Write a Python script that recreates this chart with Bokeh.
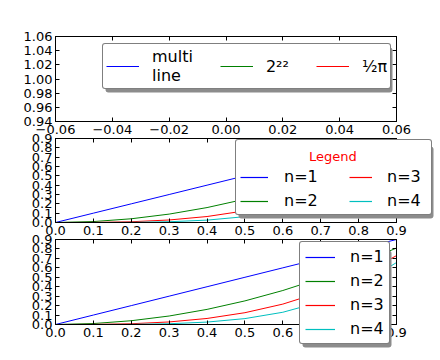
from bokeh.plotting import figure
from bokeh.models import Range1d, LinearAxis, FixedTicker, Legend, LegendItem, BoxAnnotation
from bokeh.layouts import column
from bokeh.embed import file_html
from bokeh.resources import INLINE

# ---------------- data ----------------
top_x = [0.0]
top_y = [1.0]
top_labels = ["multi\nline", "2²²", "½π"]
top_colors = ["#0000ff", "#008000", "#ff0000"]

x_vals = [0.0, 0.1, 0.2, 0.3, 0.4, 0.5, 0.6, 0.7, 0.8, 0.9]
y_n1 = [0.0, 0.1, 0.2, 0.3, 0.4, 0.5, 0.6, 0.7, 0.8, 0.9]
y_n2 = [0.0, 0.01, 0.04, 0.09, 0.16, 0.25, 0.36, 0.49, 0.64, 0.81]
y_n3 = [0.0, 0.001, 0.008, 0.027, 0.064, 0.125, 0.216, 0.343, 0.512, 0.729]
y_n4 = [0.0, 0.0001, 0.0016, 0.0081, 0.0256, 0.0625, 0.1296, 0.2401, 0.4096, 0.6561]
series_labels = ["n=1", "n=2", "n=3", "n=4"]
series_colors = ["#0000ff", "#008000", "#ff0000", "#00bfbf"]
legend_title = "Legend"

top_xticks = [-0.06, -0.04, -0.02, 0.0, 0.02, 0.04, 0.06]
top_xtick_labels = ["\u22120.06", "\u22120.04", "\u22120.02", "0.00", "0.02", "0.04", "0.06"]
top_yticks = [0.94, 0.96, 0.98, 1.0, 1.02, 1.04, 1.06]
top_ytick_labels = ["0.94", "0.96", "0.98", "1.00", "1.02", "1.04", "1.06"]
lin_ticks = [0.0, 0.1, 0.2, 0.3, 0.4, 0.5, 0.6, 0.7, 0.8, 0.9]
lin_tick_labels = ["0.0", "0.1", "0.2", "0.3", "0.4", "0.5", "0.6", "0.7", "0.8", "0.9"]

FONT = "DejaVu Sans"
W = 440
H = 360
SHADOW = "#8c8c8c"


def style_axis(ax, ticks, labels, show):
    ax.ticker = FixedTicker(ticks=ticks)
    ax.major_label_overrides = {t: (l if show else "") for t, l in zip(ticks, labels)}
    ax.major_tick_in = 4
    ax.major_tick_out = 0
    ax.minor_tick_line_color = None
    ax.axis_line_color = "black"
    ax.major_tick_line_color = "black"
    ax.major_label_text_font = FONT
    ax.major_label_text_color = "black"
    ax.major_label_text_font_size = "13px"
    ax.major_label_standoff = 3 if show else 0


def make_fig(height, btop, bbottom, xr, yr, xt, xl, yt, yl, mtop):
    p = figure(width=W, height=height, x_range=Range1d(*xr), y_range=Range1d(*yr),
               output_backend="svg", toolbar_location=None,
               min_border_left=55, min_border_right=44,
               min_border_top=btop, min_border_bottom=bbottom,
               border_fill_alpha=0, background_fill_color="white",
               outline_line_color="black")
    p.grid.visible = False
    p.add_layout(LinearAxis(), "above")
    p.add_layout(LinearAxis(), "right")
    style_axis(p.below[0], xt, xl, True)
    style_axis(p.above[0], xt, xl, False)
    style_axis(p.left[0], yt, yl, True)
    style_axis(p.right[0], yt, yl, False)
    if mtop:
        p.margin = (mtop, 0, 0, 0)
    return p


# ---------------- figure 1 ----------------
p1 = make_fig(140, 36, 19, (-0.06, 0.06), (0.94, 1.06),
              top_xticks, top_xtick_labels, top_yticks, top_ytick_labels, 0)
for col in top_colors:
    p1.line(top_x, top_y, line_color=col, line_width=1)

# ---------------- figure 2 ----------------
p2 = make_fig(119, 16, 19, (0, 0.9), (0, 0.9),
              lin_ticks, lin_tick_labels, lin_ticks, lin_tick_labels, -18)
for ys, col in zip([y_n1, y_n2, y_n3, y_n4], series_colors):
    p2.line(x_vals, ys, line_color=col, line_width=1)

# ---------------- figure 3 ----------------
p3 = make_fig(137, 16, 36, (0, 0.9), (0, 0.9),
              lin_ticks, lin_tick_labels, lin_ticks, lin_tick_labels, -18)
for ys, col in zip([y_n1, y_n2, y_n3, y_n4], series_colors):
    p3.line(x_vals, ys, line_color=col, line_width=1)

# ---------------- legend overlay (transparent, on top) ----------------
# its data range lies away from the proxies' data, so the proxy lines are not seen
ov = figure(width=W, height=H, x_range=Range1d(5, 6), y_range=Range1d(5, 6),
            output_backend="svg", toolbar_location=None,
            x_axis_type=None, y_axis_type=None,
            min_border_left=0, min_border_right=0, min_border_top=0, min_border_bottom=0,
            border_fill_alpha=0, background_fill_alpha=0, outline_line_color=None)
ov.grid.visible = False
ov.margin = (-H, 0, 0, 0)
try:
    ov.frame_align = False
except Exception:
    pass


def proxy(col, alpha=1.0):
    return ov.line(x_vals, y_n1, line_color=col, line_width=1.2, line_alpha=alpha)


def shadow(left, top, width, height, off=3):
    # box given in page pixels (from top-left); drawn in screen units (from bottom-left)
    b = BoxAnnotation(left=left + off, right=left + width + off,
                      top=H - (top + off), bottom=H - (top + height + off),
                      left_units="screen", right_units="screen",
                      top_units="screen", bottom_units="screen",
                      fill_color=SHADOW, fill_alpha=1, line_color=None)
    try:
        b.border_radius = 3
    except Exception:
        pass
    ov.add_layout(b)


def legend(items, loc, box=True, **kw):
    opts = dict(label_text_font=FONT, label_text_font_size="16px",
                label_text_color="black", border_line_width=1)
    opts.update(kw)
    lg = Legend(items=items, location=loc, **opts)
    if box:
        lg.background_fill_color = "white"
        lg.background_fill_alpha = 1
        lg.border_line_color = "black"
        try:
            lg.border_radius = 3
        except Exception:
            pass
    else:
        lg.background_fill_alpha = 0
        lg.border_line_color = None
    ov.add_layout(lg, "center")


# shadows first (under the legends)
shadow(102, 44, 287, 45)
shadow(235, 143, 195, 72)
shadow(299, 247, 89, 97)

# top legend
items_top = [LegendItem(label=lab, renderers=[proxy(col)])
             for lab, col in zip(top_labels, top_colors)]
legend(items_top, (102, H - 89), orientation="horizontal", padding=3,
       spacing=27, glyph_width=33, label_standoff=13,
       label_text_line_height=1.1)

# middle legend: box with column 1, transparent column 2, centred red title
mid_proxies = [proxy(c) for c in series_colors]
blank_a = proxy("white", 0.0)
blank_b = proxy("white", 0.0)
blank_t = proxy("white", 0.0)
items_a = [LegendItem(label="", renderers=[blank_a])] + \
          [LegendItem(label=series_labels[i], renderers=[mid_proxies[i]]) for i in (0, 1)]
items_b = [LegendItem(label="", renderers=[blank_b])] + \
          [LegendItem(label=series_labels[i], renderers=[mid_proxies[i]]) for i in (2, 3)]
mid_kw = dict(orientation="vertical", padding=4, spacing=5, glyph_height=18,
              label_height=18)
legend(items_a, (235, H - 215), glyph_width=28, label_standoff=16,
       label_width=143, **mid_kw)
legend(items_b, (349, H - 210), box=False, glyph_width=23, label_standoff=15,
       label_width=34, **mid_kw)
legend([LegendItem(label=legend_title, renderers=[blank_t])], (308, H - 165),
       box=False, padding=0, glyph_width=1, glyph_height=18, label_height=18,
       label_standoff=0, label_text_color="red", label_text_font_size="13px")

# bottom legend
bot_proxies = [proxy(c) for c in series_colors]
items_c = [LegendItem(label=lab, renderers=[r]) for lab, r in zip(series_labels, bot_proxies)]
legend(items_c, (299, H - 344), orientation="vertical", padding=5, spacing=5,
       glyph_width=30, glyph_height=18, label_height=18,
       label_standoff=15, label_width=34)

layout = column(p1, p2, p3, ov, spacing=0)
open("out.html", "w").write(file_html(layout, INLINE))
